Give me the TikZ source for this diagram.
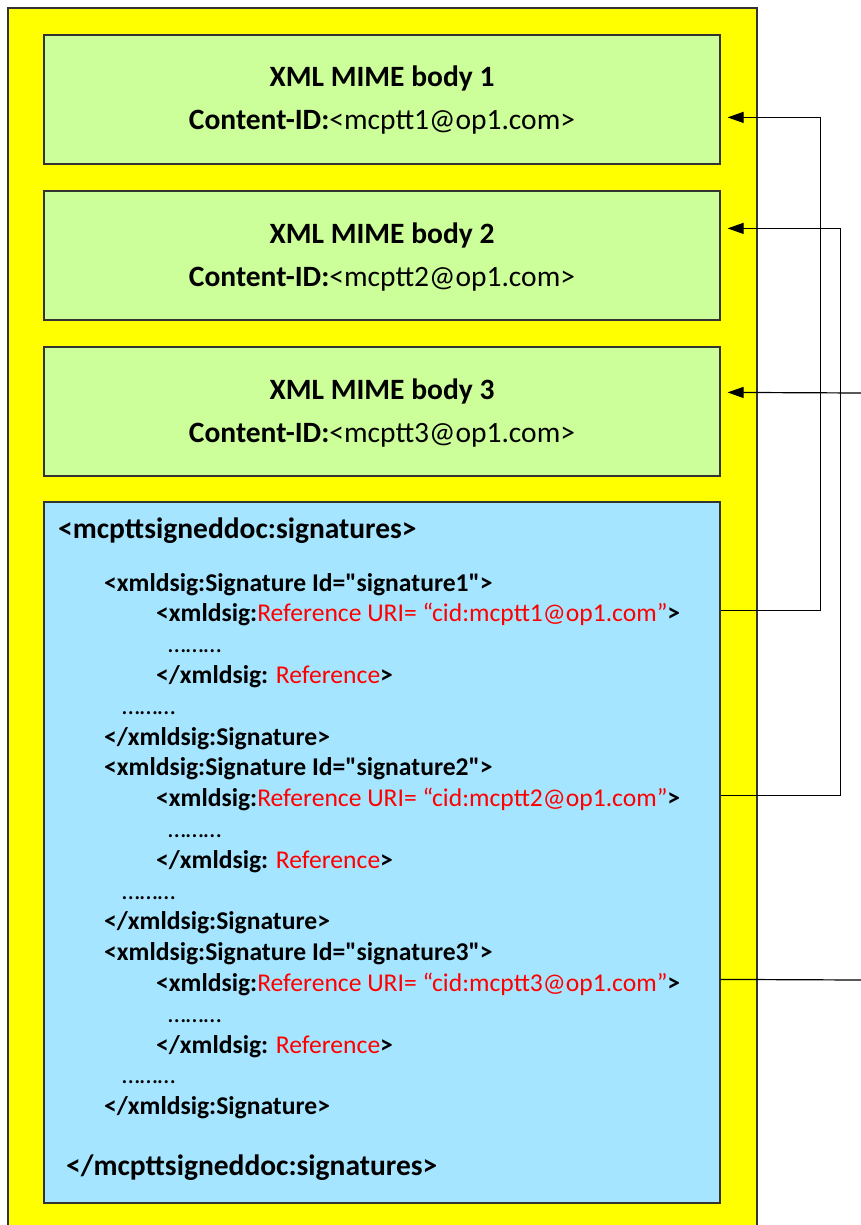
\documentclass[tikz,border=0pt]{standalone}
\usepackage{fontspec}
\setmainfont{Carlito}[Ligatures=TeXOff]
\usetikzlibrary{arrows.meta,calc}
\definecolor{outerfill}{HTML}{FFFF00}
\definecolor{greenfill}{HTML}{CCFF99}
\definecolor{bluefill}{HTML}{A6E5FF}
\definecolor{edge}{HTML}{333333}
\definecolor{refred}{HTML}{FF0000}
\newcommand{\rr}[1]{\textcolor{refred}{\mdseries #1}}
\begin{document}
\begin{tikzpicture}[x=1pt,y=-1pt,
  greenbox/.style={draw=edge,line width=1.2pt,fill=greenfill,rectangle,minimum width=676pt,minimum height=129pt,inner sep=0pt},
  bluebox/.style={draw=edge,line width=1.2pt,fill=bluefill,rectangle,minimum width=676pt,minimum height=701pt,inner sep=0pt},
  titletext/.style={anchor=base,inner sep=0pt,font=\fontsize{29.5}{34}\selectfont\bfseries},
  idtext/.style={anchor=base,inner sep=0pt,font=\fontsize{29.5}{34}\selectfont},
  xmltext/.style={anchor=base west,inner sep=0pt,font=\fontsize{25.6}{30}\selectfont\bfseries},
  headtext/.style={anchor=base west,inner sep=0pt,font=\fontsize{29.5}{34}\selectfont\bfseries},
  conn/.style={draw=black,line width=1.2pt},
  arr/.style={conn,-{Triangle[length=16pt,width=11pt]}}
]
\useasboundingbox (0,0) rectangle (861,1225);
% outer yellow container
\fill[outerfill] (8,8) rectangle (757,1225);
\draw[edge,line width=1.3pt] (8,1225) -- (8,8) -- (757,8) -- (757,1225);
% green boxes
\node[greenbox] (g1) at (382,99.5) {};
\node[greenbox] (g2) at (382,255.5) {};
\node[greenbox] (g3) at (382,411.5) {};
\node[titletext] (t1) at (382,87) {XML MIME body 1};
\node[idtext] (c1) at (382,130) {\textbf{Content-ID:}<mcptt1@op1.com>};
\node[titletext] (t2) at (382,243) {XML MIME body 2};
\node[idtext] (c2) at (382,286) {\textbf{Content-ID:}<mcptt2@op1.com>};
\node[titletext] (t3) at (382,399) {XML MIME body 3};
\node[idtext] (c3) at (382,442) {\textbf{Content-ID:}<mcptt3@op1.com>};
% blue box
\node[bluebox] (bl) at (382,852.5) {};
\node[headtext] (h1) at (58,538) {<mcpttsigneddoc:signatures>};
\node[xmltext] (l0) at (104,591) {<xmldsig:Signature Id="signature1">};
\node[xmltext] (l1) at (156,621.8) {<xmldsig:\rr{Reference URI= “cid:mcptt1@op1.com”}>};
\node[xmltext] (l2) at (168,652.6) {\mdseries ………};
\node[xmltext] (l3) at (156,683.4) {</xmldsig: \rr{Reference}>};
\node[xmltext] (l4) at (122,714.2) {\mdseries ………};
\node[xmltext] (l5) at (104,745) {</xmldsig:Signature>};
\node[xmltext] (l6) at (104,775.8) {<xmldsig:Signature Id="signature2">};
\node[xmltext] (l7) at (156,806.6) {<xmldsig:\rr{Reference URI= “cid:mcptt2@op1.com”}>};
\node[xmltext] (l8) at (168,837.4) {\mdseries ………};
\node[xmltext] (l9) at (156,868.2) {</xmldsig: \rr{Reference}>};
\node[xmltext] (l10) at (122,899) {\mdseries ………};
\node[xmltext] (l11) at (104,929.8) {</xmldsig:Signature>};
\node[xmltext] (l12) at (104,960.6) {<xmldsig:Signature Id="signature3">};
\node[xmltext] (l13) at (156,991.4) {<xmldsig:\rr{Reference URI= “cid:mcptt3@op1.com”}>};
\node[xmltext] (l14) at (168,1022.2) {\mdseries ………};
\node[xmltext] (l15) at (156,1053) {</xmldsig: \rr{Reference}>};
\node[xmltext] (l16) at (122,1083.8) {\mdseries ………};
\node[xmltext] (l17) at (104,1114.6) {</xmldsig:Signature>};
\node[headtext] (h2) at (66,1175) {</mcpttsigneddoc:signatures>};
% connector end points
\coordinate (s1) at ($(bl.north east)+(0,109)$);
\coordinate (s2) at ($(bl.north east)+(0,294)$);
\coordinate (s3) at ($(bl.north east)+(0,478)$);
\coordinate (a1) at ($(g1.north east)+(7,83)$);
\coordinate (a2) at ($(g2.north east)+(7,38)$);
\coordinate (a3) at ($(g3.north east)+(7,46)$);
\coordinate (e3) at (861,980);
\coordinate (f3) at (861,393);
\draw[arr] (s1) -- ++(100,0) |- (a1);
\draw[arr] (s2) -- ++(120,0) |- (a2);
\draw[arr] (f3) -- (a3);
\draw[conn] (s3) -- (e3);
\end{tikzpicture}
\end{document}
